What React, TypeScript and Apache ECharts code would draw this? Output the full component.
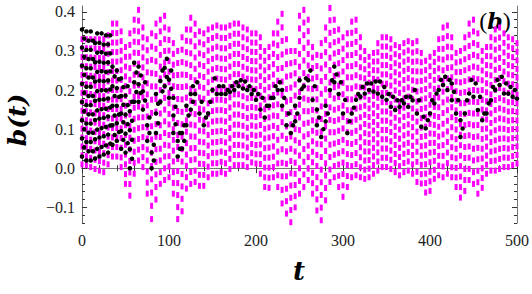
import React, { useEffect, useRef } from "react";
import * as echarts from "echarts";

// Sampling step of the time columns (t = 0, 5, ..., 500)
const T_STEP = 5;

// Magenta band: upper and lower envelope of the dashed curves, read every 5 units of t
const magentaUpper = [
  0.33, 0.33, 0.33, 0.33, 0.33, 0.33, 0.34, 0.37, 0.37, 0.35,
  0.31, 0.345, 0.38, 0.405, 0.36, 0.33, 0.345, 0.37, 0.38, 0.39,
  0.355, 0.32, 0.3, 0.335, 0.355, 0.385, 0.37, 0.35, 0.345, 0.355,
  0.36, 0.365, 0.36, 0.36, 0.365, 0.37, 0.37, 0.36, 0.355, 0.345,
  0.345, 0.335, 0.3, 0.31, 0.345, 0.375, 0.395, 0.33, 0.3, 0.3,
  0.39, 0.405, 0.38, 0.31, 0.29, 0.32, 0.36, 0.41, 0.38, 0.355,
  0.335, 0.345, 0.375, 0.38, 0.335, 0.3, 0.285, 0.295, 0.32, 0.335,
  0.335, 0.33, 0.315, 0.31, 0.32, 0.325, 0.32, 0.325, 0.295, 0.275,
  0.285, 0.295, 0.33, 0.36, 0.365, 0.335, 0.295, 0.3, 0.335, 0.37,
  0.38, 0.345, 0.3, 0.31, 0.335, 0.355, 0.36, 0.345, 0.335, 0.33,
  0.32,
];

const magentaLower = [
  0.01, 0.008, 0.003, -0.002, -0.006, -0.01, 0.01, 0.03, 0.03, 0.003,
  -0.04, -0.07, -0.014, 0.02, 0.003, -0.065, -0.13, -0.08, -0.04, -0.03,
  -0.023, -0.065, -0.13, -0.11, -0.052, -0.04, -0.035, -0.045, -0.045, -0.023,
  -0.014, -0.014, -0.01, -0.014, -0.002, 0.008, 0.008, 0.008, 0.003, 0.015,
  0.012, -0.014, -0.048, -0.05, -0.023, -0.048, -0.09, -0.116, -0.138, -0.1,
  -0.065, -0.048, -0.03, -0.065, -0.108, -0.133, -0.082, -0.035, -0.023, -0.048,
  -0.073, -0.048, -0.023, -0.018, -0.023, -0.027, -0.023, -0.014, -0.006, 0.003,
  0.003, -0.002, -0.01, -0.018, -0.01, -0.006, -0.014, -0.035, -0.039, -0.062,
  -0.058, -0.027, -0.018, -0.023, -0.014, -0.023, -0.048, -0.075, -0.058, -0.03,
  -0.04, -0.065, -0.05, -0.014, -0.006, -0.006, -0.002, 0.003, 0.003, 0.008,
  0.012,
];

// Black dotted trajectories: upper and lower extent of the dots, every 5 units of t
const blackUpper = [
  0.355, 0.35, 0.35, 0.345, 0.345, 0.34, 0.34, 0.26, 0.25, 0.23,
  0.21, 0.17, 0.27, 0.26, 0.22, 0.13, 0.06, 0.19, 0.25, 0.28,
  0.25, 0.18, 0.09, 0.11, 0.16, 0.21, 0.22, 0.17, 0.13, 0.17,
  0.23, 0.21, 0.21, 0.2, 0.21, 0.22, 0.225, 0.222, 0.21, 0.2,
  0.19, 0.18, 0.16, 0.18, 0.21, 0.22, 0.2, 0.14, 0.11, 0.16,
  0.225, 0.23, 0.25, 0.21, 0.15, 0.1, 0.16, 0.225, 0.26, 0.22,
  0.175, 0.12, 0.155, 0.19, 0.208, 0.217, 0.217, 0.222, 0.222, 0.208,
  0.19, 0.183, 0.174, 0.174, 0.183, 0.183, 0.2, 0.174, 0.132, 0.123,
  0.174, 0.191, 0.226, 0.234, 0.226, 0.217, 0.174, 0.123, 0.174, 0.226,
  0.217, 0.183, 0.14, 0.166, 0.208, 0.226, 0.234, 0.217, 0.208, 0.2,
  0.191,
];

const blackLower = [
  0.03, 0.02, 0.02, 0.025, 0.03, 0.035, 0.04, 0.06, 0.07, 0.05,
  0.04, 0.0, 0.17, 0.17, 0.15, 0.07, 0.0, 0.09, 0.17, 0.21,
  0.18, 0.09, 0.03, 0.05, 0.11, 0.15, 0.19, 0.14, 0.11, 0.14,
  0.2, 0.19, 0.19, 0.19, 0.195, 0.2, 0.21, 0.204, 0.2, 0.19,
  0.175, 0.15, 0.13, 0.16, 0.18, 0.2, 0.16, 0.11, 0.09, 0.12,
  0.18, 0.21, 0.225, 0.175, 0.11, 0.08, 0.12, 0.2, 0.22, 0.19,
  0.14, 0.09, 0.14, 0.175, 0.183, 0.191, 0.2, 0.196, 0.191, 0.183,
  0.175, 0.157, 0.149, 0.157, 0.166, 0.157, 0.174, 0.14, 0.106, 0.102,
  0.14, 0.166, 0.2, 0.213, 0.2, 0.174, 0.14, 0.08, 0.14, 0.191,
  0.183, 0.149, 0.123, 0.14, 0.174, 0.2, 0.213, 0.191, 0.191, 0.183,
  0.178,
];

// Tick values
const yMajorTicks = [-0.1, 0, 0.1, 0.2, 0.3, 0.4];
const yMinorTicks = [
  -0.14, -0.12, -0.1, -0.08, -0.06, -0.04, -0.02, 0, 0.02, 0.04, 0.06, 0.08,
  0.1, 0.12, 0.14, 0.16, 0.18, 0.2, 0.22, 0.24, 0.26, 0.28, 0.3, 0.32, 0.34,
  0.36, 0.38, 0.4,
];

const MAGENTA_ROWS = 15;
const BLACK_ROW_STEP = 0.024;

function buildMagenta(): number[][] {
  const pts: number[][] = [];
  magentaUpper.forEach((u, i) => {
    const l = magentaLower[i];
    const t = i * T_STEP;
    for (let k = 0; k < MAGENTA_ROWS; k++) {
      pts.push([t, l + ((u - l) * k) / (MAGENTA_ROWS - 1)]);
    }
  });
  return pts;
}

function buildBlack(): number[][] {
  const pts: number[][] = [];
  blackUpper.forEach((u, i) => {
    const l = blackLower[i];
    const n = Math.max(1, Math.round((u - l) / BLACK_ROW_STEP));
    for (let j = 0; j <= n; j++) {
      const t = i * T_STEP + (j % 2 ? T_STEP / 2 : 0);
      pts.push([t, l + ((u - l) * j) / n]);
    }
  });
  return pts;
}

const SERIF = "'Liberation Serif', 'DejaVu Serif', serif";
const MATH = "'DejaVu Serif', 'Liberation Serif', serif";

export default function App() {
  const ref = useRef<HTMLDivElement>(null);

  useEffect(() => {
    document.body.style.margin = "0";
    if (!ref.current) return;
    const chart = echarts.init(ref.current, null, { renderer: "svg" });
    const Y_MIN = -0.14;
    const Y_MAX = 0.415;
    const yFmt = (v: number) => (Math.abs(v) < 1e-9 ? "0.0" : v.toFixed(1).replace("-", "\u2212"));

    const xCommon = {
      type: "value" as const,
      min: 0,
      max: 500,
      interval: 100,
      splitLine: { show: false },
      axisTick: { inside: true, length: 5, lineStyle: { color: "#333" } },
      minorTick: { show: true, splitNumber: 5, length: 3, lineStyle: { color: "#333" } },
      minorSplitLine: { show: false },
    };

    chart.setOption({
      animation: false,
      backgroundColor: "#fff",
      grid: { left: 82, right: 15, top: 6, bottom: 71, containLabel: false },
      xAxis: [
        {
          ...xCommon,
          position: "bottom",
          axisLine: { lineStyle: { color: "#222", width: 1 } },
          axisLabel: {
            fontFamily: SERIF,
            fontSize: 16,
            color: "#222",
            margin: 9,
          },
        },
        {
          ...xCommon,
          position: "top",
          axisLine: { lineStyle: { color: "#777", width: 1 } },
          axisLabel: { show: false },
        },
      ],
      yAxis: [
        {
          type: "value",
          min: Y_MIN,
          max: Y_MAX,
          position: "left",
          splitLine: { show: false },
          axisLine: { lineStyle: { color: "#666", width: 1 } },
          axisTick: { inside: true, length: 5, customValues: yMajorTicks, lineStyle: { color: "#333" } },
          axisLabel: {
            customValues: yMajorTicks,
            formatter: yFmt,
            fontFamily: SERIF,
            fontSize: 16,
            color: "#222",
            margin: 7,
          },
        },
        {
          type: "value",
          min: Y_MIN,
          max: Y_MAX,
          position: "left",
          splitLine: { show: false },
          axisLine: { show: false },
          axisTick: { inside: true, length: 3, customValues: yMinorTicks, lineStyle: { color: "#333" } },
          axisLabel: { show: false },
        },
        {
          type: "value",
          min: Y_MIN,
          max: Y_MAX,
          position: "right",
          splitLine: { show: false },
          axisLine: { lineStyle: { color: "#777", width: 1 } },
          axisTick: { inside: true, length: 5, customValues: yMajorTicks, lineStyle: { color: "#333" } },
          axisLabel: { show: false },
        },
        {
          type: "value",
          min: Y_MIN,
          max: Y_MAX,
          position: "right",
          splitLine: { show: false },
          axisLine: { show: false },
          axisTick: { inside: true, length: 3, customValues: yMinorTicks, lineStyle: { color: "#333" } },
          axisLabel: { show: false },
        },
      ],
      series: [
        {
          type: "scatter",
          name: "band",
          xAxisIndex: 0,
          yAxisIndex: 0,
          data: buildMagenta(),
          symbol: "rect",
          symbolSize: [3, 6],
          itemStyle: { color: "#ff00ff", opacity: 1 },
          silent: true,
          markLine: {
            silent: true,
            symbol: "none",
            label: { show: false },
            lineStyle: { color: "#dddddd", width: 1, type: "solid" },
            data: [{ yAxis: 0 }],
            z: 0,
          },
          z: 2,
        },
        {
          type: "scatter",
          name: "dots",
          xAxisIndex: 0,
          yAxisIndex: 0,
          data: buildBlack(),
          symbol: "circle",
          symbolSize: 4.5,
          itemStyle: { color: "#000", opacity: 1 },
          silent: true,
          z: 3,
        },
      ],
      graphic: [
        {
          type: "text",
          x: 17,
          y: 120,
          rotation: Math.PI / 2,
          style: {
            text: "b(t)",
            font: `italic bold 25px ${MATH}`,
            fill: "#000",
            align: "center",
            verticalAlign: "middle",
          },
        },
        {
          type: "text",
          x: 299,
          y: 271,
          style: {
            text: "t",
            font: `italic bold 26px ${MATH}`,
            fill: "#000",
            align: "center",
            verticalAlign: "middle",
          },
        },
        {
          type: "text",
          x: 495,
          y: 21,
          style: {
            text: "{p|(}{b|b}{p|)}",
            fill: "#000",
            align: "center",
            verticalAlign: "middle",
            rich: {
              p: { fontFamily: "'Liberation Serif', serif", fontSize: 24, fill: "#000" },
              b: { fontFamily: MATH, fontStyle: "italic", fontWeight: "bold", fontSize: 22, fill: "#000" },
            },
          },
        },
      ],
    });

    return () => chart.dispose();
  }, []);

  return <div ref={ref} style={{ width: 532, height: 294 }} />;
}
